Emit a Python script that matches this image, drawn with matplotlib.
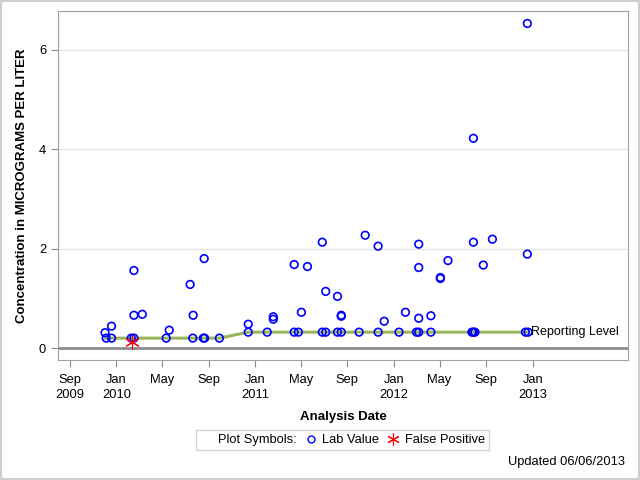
import pandas as pd
import matplotlib
matplotlib.use('Agg')
import matplotlib.pyplot as plt
from matplotlib.lines import Line2D
from matplotlib.patches import Rectangle

plt.rcParams['font.family'] = ['Liberation Sans', 'DejaVu Sans']

# Lab values (analysis date, concentration)
lab_dates = [
    '2009-12-02', '2009-12-05', '2009-12-19', '2009-12-19', '2010-02-09',
    '2010-02-16', '2010-02-16', '2010-02-16', '2010-03-10', '2010-05-12',
    '2010-05-20', '2010-07-14', '2010-07-22', '2010-07-21', '2010-08-18',
    '2010-08-21', '2010-08-20', '2010-09-29', '2010-12-14', '2010-12-14',
    '2011-02-02', '2011-02-18', '2011-02-18', '2011-04-14', '2011-04-14',
    '2011-04-25', '2011-05-03', '2011-05-19', '2011-06-27', '2011-06-27',
    '2011-07-06', '2011-07-06', '2011-08-06', '2011-08-06', '2011-08-16',
    '2011-08-16', '2011-08-16', '2011-10-02', '2011-10-18', '2011-11-21',
    '2011-11-21', '2011-12-07', '2012-01-15', '2012-02-01', '2012-03-01',
    '2012-03-07', '2012-03-07', '2012-03-07', '2012-03-07', '2012-04-08',
    '2012-04-08', '2012-05-03', '2012-05-03', '2012-05-23', '2012-07-25',
    '2012-07-29', '2012-07-29', '2012-07-29', '2012-08-02', '2012-08-24',
    '2012-09-17', '2012-12-13', '2012-12-18', '2012-12-18', '2012-12-20',
]
lab_values = [
    0.31, 0.20, 0.44, 0.20, 0.20,
    0.20, 1.56, 0.66, 0.68, 0.20,
    0.36, 1.28, 0.66, 0.20, 0.20,
    0.20, 1.80, 0.20, 0.48, 0.32,
    0.32, 0.63, 0.58, 1.68, 0.32,
    0.32, 0.72, 1.64, 2.13, 0.32,
    1.14, 0.32, 1.04, 0.32, 0.32,
    0.66, 0.64, 0.32, 2.27, 2.05,
    0.32, 0.54, 0.32, 0.72, 0.32,
    0.32, 2.09, 1.62, 0.60, 0.65,
    0.32, 1.42, 1.40, 1.76, 0.32,
    2.13, 0.32, 4.22, 0.32, 1.67,
    2.19, 0.32, 1.89, 6.53, 0.32,
]

# False positives
fp_dates = ['2010-02-10']
fp_values = [0.13]

# Reporting level
rl_dates = ['2009-12-02', '2010-09-29', '2010-12-14', '2012-12-20']
rl_values = [0.20, 0.20, 0.32, 0.32]

tick_dates = ['2009-09-01', '2010-01-01', '2010-05-01', '2010-09-01',
              '2011-01-01', '2011-05-01', '2011-09-01', '2012-01-01',
              '2012-05-01', '2012-09-01', '2013-01-01']
tick_labels = ['Sep\n2009', 'Jan\n2010', 'May', 'Sep', 'Jan\n2011', 'May',
               'Sep', 'Jan\n2012', 'May', 'Sep', 'Jan\n2013']

fig = plt.figure(figsize=(6.4, 4.8), dpi=100)
ax = fig.add_axes([0.0906, 0.25, 0.8906, 0.727])

for y in [2, 4, 6]:
    ax.axhline(y, color='#e4e4e4', lw=1, zorder=0)
ax.axhline(0, color='#8c8c8c', lw=2, zorder=1)

ax.plot(pd.to_datetime(rl_dates), rl_values, color='#9bb55a', lw=2.2, zorder=2)
ax.scatter(pd.to_datetime(lab_dates), lab_values, s=30, facecolors='none',
           edgecolors='#0000ff', linewidths=1.2, zorder=3)
ax.scatter(pd.to_datetime(fp_dates), fp_values, s=100, marker=(6, 2, 0),
           color='#ff0000', linewidths=0.8, zorder=4)
ax.text(pd.to_datetime(rl_dates[-1]) + pd.Timedelta(days=8), rl_values[-1],
        'Reporting Level', fontsize=9, va='center', ha='left', zorder=5)

ax.set_xlim(pd.Timestamp('2009-07-31'), pd.Timestamp('2013-09-09'))
ax.set_ylim(-0.24, 6.78)
ax.set_yticks([0, 2, 4, 6])
ax.set_xticks(pd.to_datetime(tick_dates))
ax.set_xticklabels(tick_labels, linespacing=1.4)
ax.tick_params(axis='both', labelsize=9.3, length=5, color='#8c8c8c', direction='out')
ax.tick_params(axis='x', pad=5)
ax.tick_params(top=False, right=False)
for side in ax.spines.values():
    side.set_color('#a0a0a0')

ax.set_ylabel('Concentration in MICROGRAMS PER LITER', fontsize=9.5,
              fontweight='bold', labelpad=8)
ax.set_xlabel('Analysis Date', fontsize=9.5, fontweight='bold', labelpad=7)

handles = [
    Line2D([], [], linestyle='none', marker=None),
    Line2D([], [], linestyle='none', marker='o', markerfacecolor='none',
           markeredgecolor='#0000ff', markersize=5),
    Line2D([], [], linestyle='none', marker=(6, 2, 0), color='#ff0000',
           markersize=9, markeredgewidth=0.8),
]
leg = fig.legend(handles, ['Plot Symbols:', 'Lab Value', 'False Positive'],
                 loc='center', bbox_to_anchor=(0.535, 0.083), ncol=3,
                 fontsize=9.3, frameon=True, fancybox=False, handlelength=1.0,
                 handletextpad=0.4, columnspacing=0.6, borderpad=0.3)
leg.get_frame().set_edgecolor('#c8c8c8')
leg.get_frame().set_linewidth(1)

fig.text(0.977, 0.037, 'Updated 06/06/2013', fontsize=9.3, ha='right', va='center')

fig.patches.append(Rectangle((0.002, 0.002), 0.996, 0.996, transform=fig.transFigure,
                             fill=False, edgecolor='#d0d0d0', lw=1.5))

fig.savefig('out.png', dpi=100)
